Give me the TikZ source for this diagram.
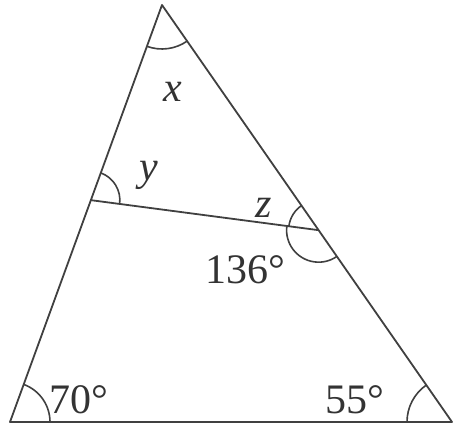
\documentclass[tikz,border=0pt]{standalone}
\usepackage{fontspec}
\setmainfont{Liberation Serif}
\usetikzlibrary{angles, calc}

\begin{document}
\begin{tikzpicture}[
    x=1pt, y=1pt,
    side/.style={line width=1.8pt, black!75, line join=round},
    angarc/.style={draw, line width=1.6pt, black!75},
    lbl/.style={font=\fontsize{42}{44}\selectfont, text=black!80, inner sep=0pt}
]
    \useasboundingbox (0,0) rectangle (455,430);

    % --- Outer triangle ---
    \coordinate (A) at (162,425);
    \coordinate (B) at (10,8);
    \coordinate (C) at (452,8);
    \draw[side] (A) -- (B) -- (C) -- cycle;

    % --- Transversal across the triangle ---
    \coordinate (P) at ($(A)!0.468!(B)$);
    \coordinate (Q) at ($(A)!0.54!(C)$);
    \draw[side] (P) -- (Q);

    % --- Angle arcs ---
    \pic[angarc, angle radius=44pt] {angle = B--A--C};
    \pic[angarc, angle radius=29pt] {angle = Q--P--A};
    \pic[angarc, angle radius=30pt] {angle = A--Q--P};
    \pic[angarc, angle radius=32pt] {angle = P--Q--C};
    \pic[angarc, angle radius=40pt] {angle = C--B--A};
    \pic[angarc, angle radius=45pt] {angle = A--C--B};

    % --- Angle labels ---
    \node[lbl] (lx) at (173,338) {\textit{x}};
    \node[lbl] (ly) at (149,255) {\textit{y}};
    \node[lbl] (lz) at (264,222) {\textit{z}};
    \node[lbl] (l136) at (245,160) {136°};
    \node[lbl] (l70) at (79,30) {70°};
    \node[lbl] (l55) at (355,30) {55°};

\end{tikzpicture}
\end{document}
